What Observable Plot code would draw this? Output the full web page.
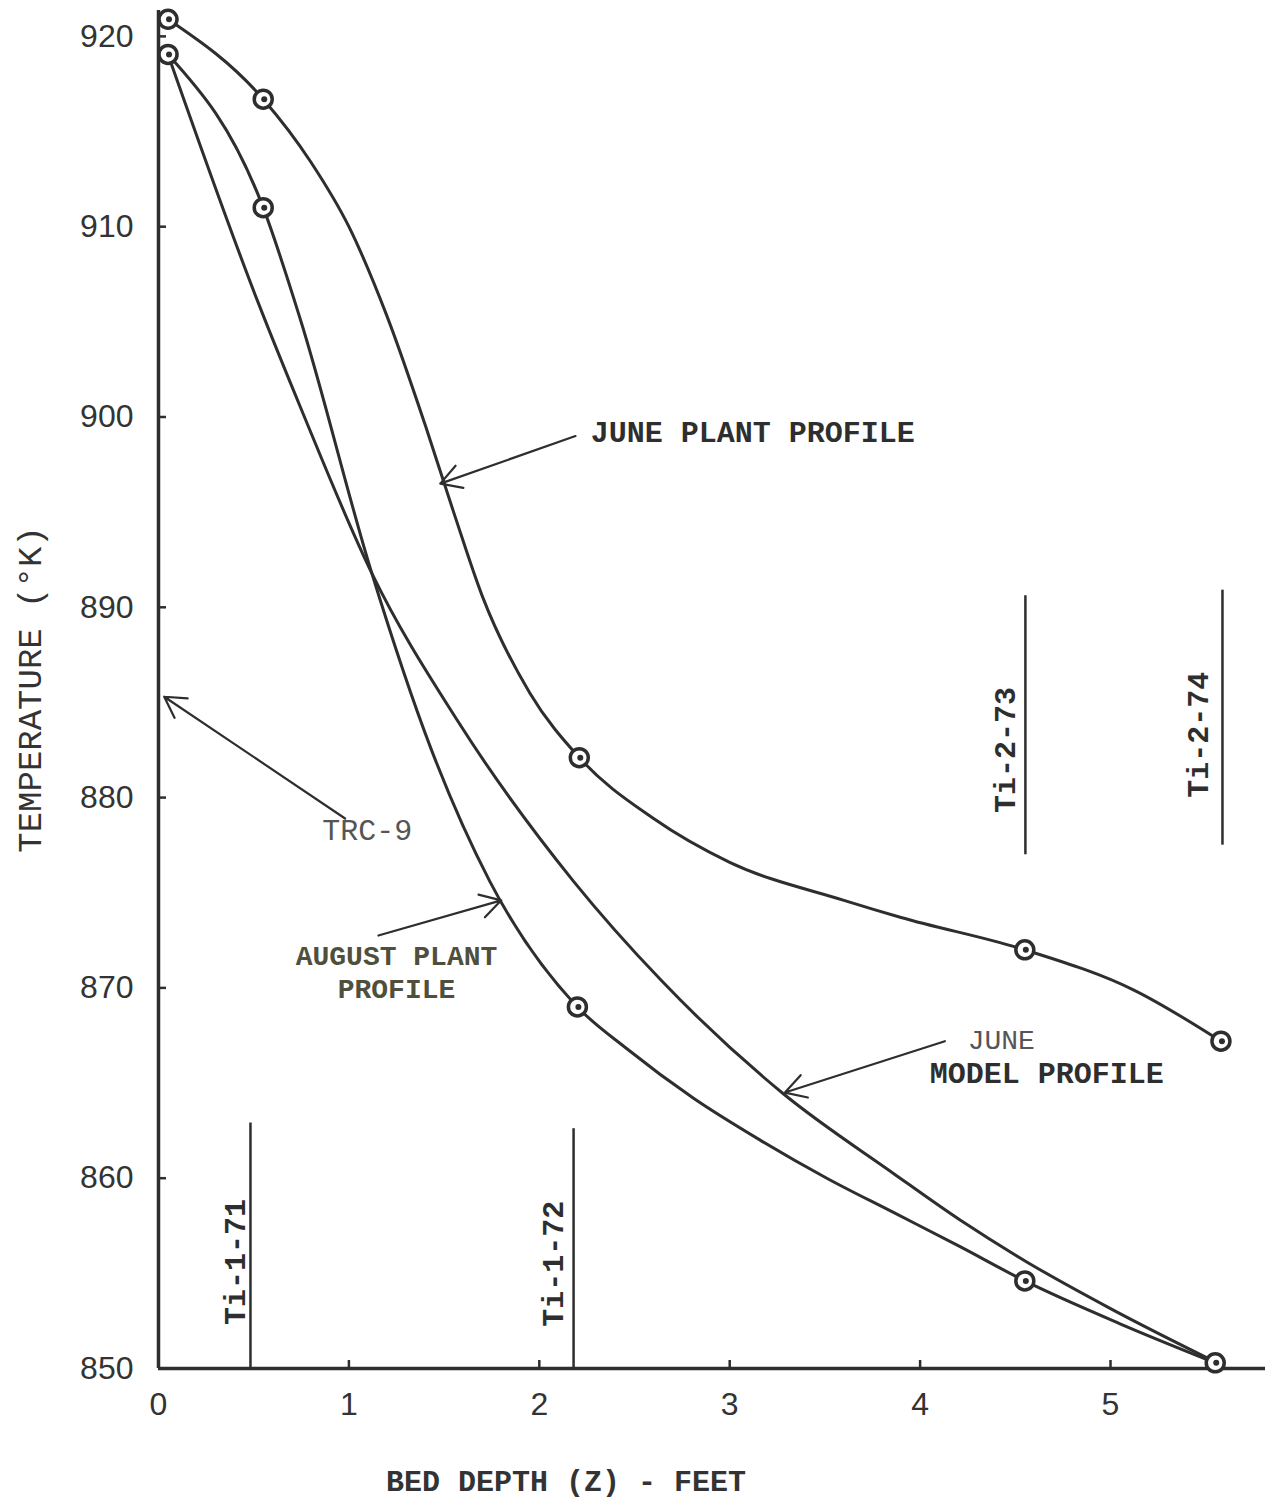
<!DOCTYPE html>
<html>
<head>
<meta charset="utf-8">
<script src="https://cdn.jsdelivr.net/npm/d3@7"></script>
<script src="https://cdn.jsdelivr.net/npm/@observablehq/plot@0.6"></script>
<style>
  html, body { margin: 0; padding: 0; background: #ffffff; }
  #chart svg { display: block; }
</style>
</head>
<body>
<div id="chart"></div>
<script>
// ---- Data ----
// June plant profile (traced curve; circles marked with juneMarked)
const juneDepth  = [0.05, 0.55, 0.80, 1.00, 1.20, 1.40, 1.55, 1.70, 1.95, 2.21, 2.60, 3.00, 3.60, 3.90, 4.55, 5.12, 5.58];
const juneTemp   = [920.9, 916.7, 913.4, 910.0, 905.3, 899.6, 895.0, 890.6, 885.5, 882.1, 878.9, 876.6, 874.6, 873.7, 872.0, 869.9, 867.2];
const juneMarked = [1, 1, 0, 0, 0, 0, 0, 0, 0, 1, 0, 0, 0, 0, 1, 0, 1];

// August plant profile
const augDepth  = [0.05, 0.55, 0.746, 1.12, 1.43, 1.74, 2.2, 2.46, 2.81, 3.16, 3.51, 3.86, 4.21, 4.55, 5.05, 5.55];
const augTemp   = [919.05, 911.0, 905.1, 891.8, 882.6, 875.6, 869.0, 866.8, 864.2, 862.0, 860.0, 858.2, 856.4, 854.6, 852.35, 850.3];
const augMarked = [1, 1, 0, 0, 0, 0, 1, 0, 0, 0, 0, 0, 0, 1, 0, 1];

// June model profile (no markers)
const modelDepth = [0.05, 0.52, 0.746, 1.12, 1.57, 2.18, 2.64, 3.28, 3.86, 4.21, 4.56, 5.0, 5.56];
const modelTemp  = [919.05, 906.1, 900.5, 891.8, 884.05, 875.6, 870.4, 864.45, 860.25, 857.8, 855.6, 853.15, 850.3];

// Thermocouple locations
const sensorNames = ["Ti-1-71", "Ti-1-72", "Ti-2-73", "Ti-2-74"];
const sensorDepth = [0.483, 2.18, 4.553, 5.588];
const sensorLow   = [850, 850, 877.0, 877.5];
const sensorHigh  = [862.9, 862.6, 890.6, 890.9];

// Axis ticks
const xTicks = [0, 1, 2, 3, 4, 5];
const yTicks = [850, 860, 870, 880, 890, 900, 910, 920];

// ---- Build tables ----
const june = juneDepth.map((d, i) => ({depth: d, temp: juneTemp[i], marked: juneMarked[i]}));
const aug = augDepth.map((d, i) => ({depth: d, temp: augTemp[i], marked: augMarked[i]}));
const model = modelDepth.map((d, i) => ({depth: d, temp: modelTemp[i]}));
const markers = [...june, ...aug].filter(d => d.marked);
const sensors = sensorNames.map((n, i) => ({name: n, depth: sensorDepth[i], lo: sensorLow[i], hi: sensorHigh[i]}));

// Annotation placement (data units)
const sensorLabels = [
  {name: "Ti-1-71", x: 0.404, y: 855.6},
  {name: "Ti-1-72", x: 2.075, y: 855.5},
  {name: "Ti-2-73", x: 4.45, y: 882.5},
  {name: "Ti-2-74", x: 5.46, y: 883.3}
];
const arrows = [
  {x1: 2.19, y1: 899.0, x2: 1.48, y2: 896.5},
  {x1: 0.98, y1: 878.9, x2: 0.03, y2: 885.3},
  {x1: 1.155, y1: 872.75, x2: 1.80, y2: 874.6},
  {x1: 4.13, y1: 867.2, x2: 3.29, y2: 864.5}
];

const ink = "#2e2e2e";
const mono = "'Liberation Mono', 'DejaVu Sans Mono', monospace";
const sans = "'Liberation Sans', Arial, sans-serif";

const chart = Plot.plot({
  width: 1273,
  height: 1509,
  marginLeft: 158,
  marginRight: 8,
  marginTop: 10,
  marginBottom: 141,
  x: {domain: [0, 5.814]},
  y: {domain: [850, 921.36]},
  style: {background: "#ffffff"},
  marks: [
    // axes lines
    Plot.ruleY([850], {stroke: ink, strokeWidth: 3.5}),
    Plot.ruleX([0], {stroke: ink, strokeWidth: 3.5}),
    // inward tick marks
    Plot.tickX(xTicks.filter(d => d > 0), {x: d => d, stroke: ink, strokeWidth: 2.5, insetTop: 1350}),
    Plot.tickY(yTicks, {y: d => d, stroke: ink, strokeWidth: 2.5, insetRight: 1099}),
    // tick labels
    Plot.axisX(xTicks, {tickSize: 0, tickPadding: 24, label: null, tickFormat: d3.format("d"), fontSize: 32, fontFamily: sans, fill: "#333"}),
    Plot.axisY(yTicks, {tickSize: 0, tickPadding: 25, label: null, tickFormat: d3.format("d"), fontSize: 32, fontFamily: sans, fill: "#333"}),
    // axis titles
    Plot.text(["TEMPERATURE (°K)"], {frameAnchor: "left", textAnchor: "middle", rotate: -90, dx: -128, fontSize: 34, fontFamily: mono, fill: "#333"}),
    Plot.text(["BED DEPTH (Z) - FEET"], {x: () => 2.14, frameAnchor: "bottom", textAnchor: "middle", dy: 122, fontSize: 30, fontWeight: "bold", fontFamily: mono, fill: "#333"}),
    // thermocouple lines + labels
    Plot.ruleX(sensors, {x: "depth", y1: "lo", y2: "hi", stroke: ink, strokeWidth: 2.5}),
    Plot.text(sensorLabels, {x: "x", y: "y", text: "name", rotate: -90, fontSize: 30, fontWeight: "bold", fontFamily: mono, fill: ink}),
    // curves
    Plot.line(model, {x: "depth", y: "temp", curve: "monotone-x", stroke: ink, strokeWidth: 3}),
    Plot.line(aug, {x: "depth", y: "temp", curve: "monotone-x", stroke: ink, strokeWidth: 3}),
    Plot.line(june, {x: "depth", y: "temp", curve: "monotone-x", stroke: ink, strokeWidth: 3}),
    // markers
    Plot.dot(markers, {x: "depth", y: "temp", r: 9, stroke: ink, strokeWidth: 3.5, fill: "#ffffff"}),
    Plot.dot(markers, {x: "depth", y: "temp", r: 3, fill: ink, dx: 1}),
    // arrows
    Plot.arrow(arrows, {x1: "x1", y1: "y1", x2: "x2", y2: "y2", stroke: ink, strokeWidth: 2.2, headLength: 16, bend: false}),
    // annotations
    Plot.text(["JUNE PLANT PROFILE"], {x: () => 2.27, y: () => 899.2, textAnchor: "start", fontSize: 30, fontWeight: "bold", fontFamily: mono, fill: ink}),
    Plot.text(["TRC-9"], {x: () => 0.86, y: () => 878.3, textAnchor: "start", fontSize: 30, fontFamily: mono, fill: "#555"}),
    Plot.text(["AUGUST PLANT", "PROFILE"], {x: () => 1.25, y: (d, i) => i === 0 ? 871.65 : 869.95, textAnchor: "middle", fontSize: 28, fontWeight: "bold", fontFamily: mono, fill: "#4f4f3c"}),
    Plot.text(["JUNE"], {x: () => 4.25, y: () => 867.25, textAnchor: "start", fontSize: 28, fontFamily: mono, fill: "#555"}),
    Plot.text(["MODEL PROFILE"], {x: () => 4.05, y: () => 865.5, textAnchor: "start", fontSize: 30, fontWeight: "bold", fontFamily: mono, fill: ink})
  ]
});

document.getElementById("chart").appendChild(chart);
</script>
</body>
</html>
